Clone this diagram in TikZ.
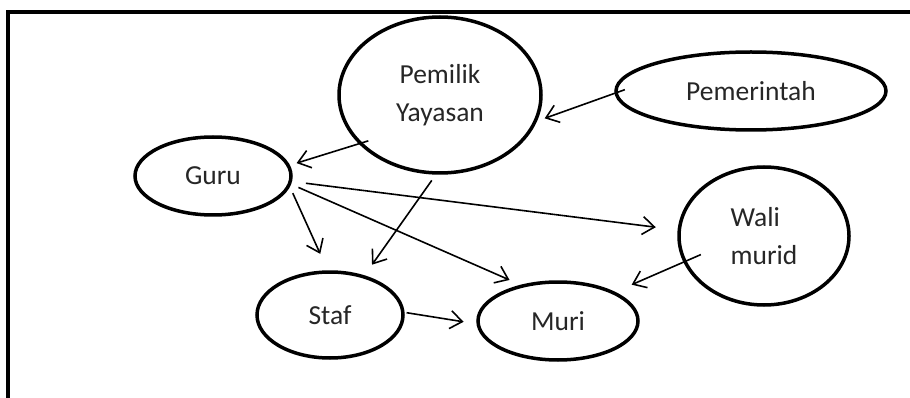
\documentclass[tikz,border=0pt]{standalone}
\usepackage{fontspec}
\setmainfont{Carlito}
\usetikzlibrary{shapes.geometric,arrows.meta}
\begin{document}
\begin{tikzpicture}[x=1pt,y=-1pt,
  ent/.style={draw, ellipse, line width=3.5pt, inner sep=0pt,
    font=\fontsize{27.5}{38}\selectfont, text=black!85, align=center},
  arr/.style={line width=1.6pt, -{Straight Barb[length=12pt,width=18pt]}}
]
\useasboundingbox (0,0) rectangle (910,398);
\fill[white] (0,0) rectangle (910,398);
\draw[line width=4pt] (912,12) -- (8,12) -- (8,400);

\node[ent, minimum width=202pt, minimum height=156pt] (pemil) at (440,95) {Pemilik\\Yayasan};
\node[ent, minimum width=270pt, minimum height=78pt] (pemer) at (751,91) {Pemerintah};
\node[ent, minimum width=156pt, minimum height=78pt] (guru) at (213,176) {Guru};
\node[ent, minimum width=146pt, minimum height=86pt] (staf) at (330,315) {Staf};
\node[ent, minimum width=160pt, minimum height=78pt] (muri) at (558,321) {Muri};
\node[ent, minimum width=170pt, minimum height=138pt, align=left] (wali) at (764,236) {Wali\\murid};

\draw[arr, shorten <=-11pt, shorten >=8pt] (pemer.181) -- (pemil.-15);
\draw[arr, shorten <=-10pt, shorten >=7pt] (pemil.211) -- (guru.8);
\draw[arr, shorten <=7pt, shorten >=13pt] (pemil.267) -- (staf.49);
\draw[arr, shorten <=7pt, shorten >=18pt] (guru.-8) -- (staf.93);
\draw[arr, shorten <=8pt, shorten >=12pt] (guru.-6) -- (muri.136);
\draw[arr, shorten <=14pt, shorten >=22pt] (guru.-4) -- (wali.176);
\draw[arr, shorten <=-19pt, shorten >=18pt] (wali.198) -- (muri.27);
\draw[arr, shorten <=2pt, shorten >=13pt] (staf.2) -- (muri.182);
\end{tikzpicture}
\end{document}
